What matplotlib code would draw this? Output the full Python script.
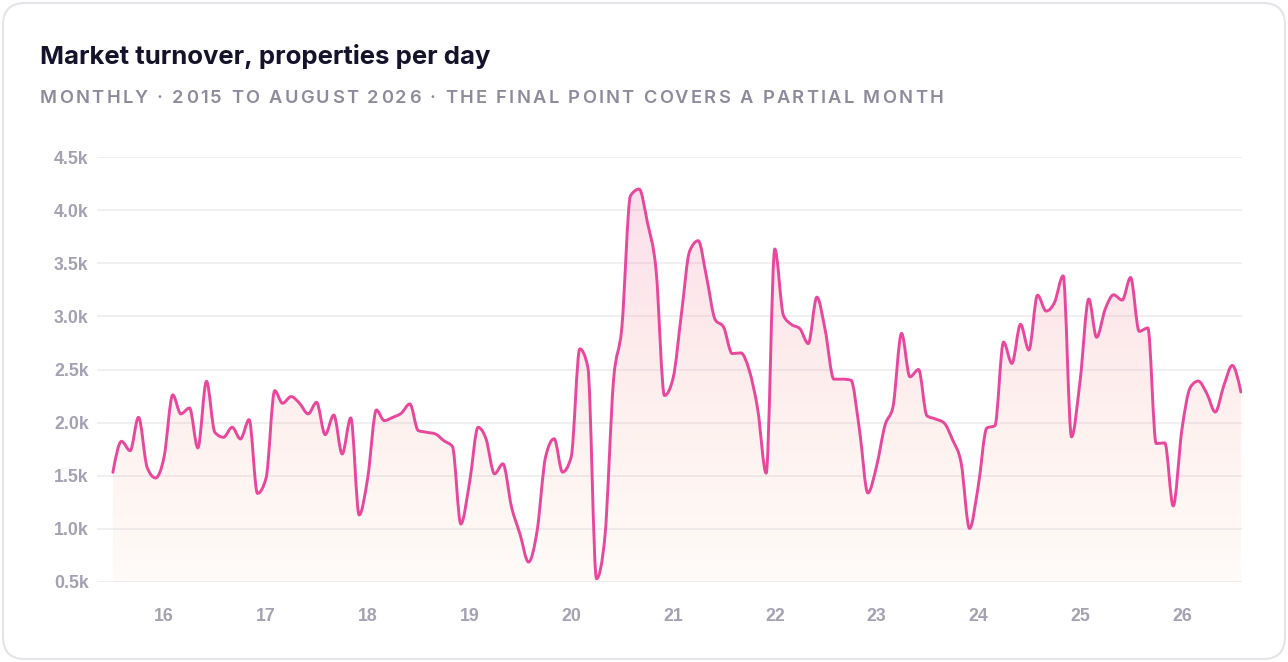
import numpy as np
import pandas as pd
import matplotlib
matplotlib.use("Agg")
import matplotlib.pyplot as plt
import matplotlib.dates as mdates
from matplotlib.patches import FancyBboxPatch, PathPatch
from matplotlib.path import Path
from matplotlib.transforms import IdentityTransform

# monthly turnover, Jul 2015 .. Aug 2026 (last month partial)
start_month = "2015-07-01"
turnover = [
    1532, 1824, 1736, 2050, 1579, 1479, 1680, 2261, 2082, 2138, 1762, 2389,
    1909, 1862, 1956, 1846, 2028, 1334, 1479, 2301, 2182, 2245, 2182, 2082,
    2191, 1887, 2072, 1705, 2044, 1131, 1485, 2119, 2019, 2050, 2088, 2176,
    1925, 1909, 1893, 1830, 1774, 1046, 1432, 1956, 1850, 1518, 1612, 1205,
    954, 688, 986, 1675, 1848, 1534, 1675, 2694, 2521, 531, 923, 2396,
    2897, 4135, 4198, 3880, 3430, 2255, 2420, 3050, 3612, 3712, 3369, 2969,
    2900, 2650, 2656, 2494, 2119, 1525, 3634, 3009, 2925, 2884, 2744, 3181,
    2869, 2409, 2409, 2400, 1931, 1338, 1587, 1980, 2147, 2840, 2431, 2500,
    2065, 2034, 1996, 1838, 1618, 1004, 1398, 1949, 1971, 2758, 2557, 2925,
    2683, 3200, 3050, 3131, 3381, 1866, 2397, 3163, 2803, 3069, 3203, 3153,
    3366, 2859, 2891, 1803, 1809, 1216, 1928, 2334, 2391, 2272, 2100, 2350,
    2538, 2288,
]
y_ticks = [500, 1000, 1500, 2000, 2500, 3000, 3500, 4000, 4500]
y_tick_labels = ["0.5k", "1.0k", "1.5k", "2.0k", "2.5k", "3.0k", "3.5k", "4.0k", "4.5k"]
x_tick_years = list(range(2016, 2027))

title = "Market turnover, properties per day"
subtitle = "MONTHLY · 2015 TO AUGUST 2026 · THE FINAL POINT COVERS A PARTIAL MONTH"

W, H = 1288, 662
LINE = "#e8479b"
GRID = "#ececf0"
TICK = "#a3a1b2"


def monotone_path(x, y):
    # smooth monotone-x bezier through the points (same idea as d3.curveMonotoneX)
    h = np.diff(x)
    s = np.diff(y) / h
    t = np.zeros_like(y)
    for i in range(1, len(x) - 1):
        p = (s[i - 1] * h[i] + s[i] * h[i - 1]) / (h[i - 1] + h[i])
        t[i] = (np.sign(s[i - 1]) + np.sign(s[i])) * min(abs(s[i - 1]), abs(s[i]), 0.5 * abs(p))
    t[0] = (3 * s[0] - t[1]) / 2
    t[-1] = (3 * s[-1] - t[-2]) / 2
    verts = [(x[0], y[0])]
    codes = [Path.MOVETO]
    for i in range(len(x) - 1):
        dx = h[i] / 3
        verts += [(x[i] + dx, y[i] + dx * t[i]),
                  (x[i + 1] - dx, y[i + 1] - dx * t[i + 1]),
                  (x[i + 1], y[i + 1])]
        codes += [Path.CURVE4] * 3
    return verts, codes


months = pd.date_range(start_month, periods=len(turnover), freq="MS")
xs = mdates.date2num(months)
vals = np.array(turnover, dtype=float)

fig = plt.figure(figsize=(W / 100, H / 100), dpi=100)
fig.patch.set_facecolor("white")

card = FancyBboxPatch((3, 3), W - 6, H - 6,
                      boxstyle="round,pad=0,rounding_size=22",
                      transform=IdentityTransform(),
                      fc="white", ec="#e4e4e9", lw=1.5, zorder=-5)
fig.patches.append(card)

ax = fig.add_axes([97 / W, 80 / H, 1145 / W, 425 / H])
ax.set_facecolor("none")

x0 = mdates.date2num(pd.Timestamp("2015-05-05"))
x1 = mdates.date2num(pd.Timestamp("2026-08-05"))
ax.set_xlim(x0, x1)
ax.set_ylim(500, 4500)

verts, codes = monotone_path(xs, vals)
line_path = Path(verts, codes)
area_path = Path(verts + [(xs[-1], 500), (xs[0], 500), (xs[0], vals[0])],
                 codes + [Path.LINETO, Path.LINETO, Path.CLOSEPOLY])

# gradient area under the line
n = 256
tt = np.linspace(0, 1, n)[:, None]          # 0 = bottom, 1 = top
pink = np.array([236, 72, 153]) / 255
peach = np.array([249, 115, 22]) / 255
rgb = peach * (1 - tt) + pink * tt
alpha = 0.03 + 0.15 * tt
grad = np.dstack([np.repeat(rgb[:, None, :], 2, axis=1),
                  np.repeat(alpha[:, None, :], 2, axis=1)])
im = ax.imshow(grad, extent=[x0, x1, 500, 4250], origin="lower",
               aspect="auto", interpolation="bilinear", zorder=1)
im.set_clip_path(area_path, transform=ax.transData)

ax.add_patch(PathPatch(line_path, fc="none", ec=LINE, lw=2.1,
                       joinstyle="round", capstyle="round", zorder=3))

ax.set_yticks(y_ticks)
ax.set_yticklabels(y_tick_labels)
ax.set_xticks([mdates.date2num(pd.Timestamp(f"{y}-01-01")) for y in x_tick_years])
ax.set_xticklabels([str(y)[2:] for y in x_tick_years])
ax.grid(axis="y", color=GRID, lw=1.1, zorder=0)
ax.grid(axis="x", visible=False)
ax.set_axisbelow(True)
for s in ax.spines.values():
    s.set_visible(False)
ax.tick_params(axis="both", length=0, colors=TICK, labelsize=12.8)
ax.tick_params(axis="y", pad=6)
ax.tick_params(axis="x", pad=19)
for lab in ax.get_xticklabels() + ax.get_yticklabels():
    lab.set_fontweight("bold")
    lab.set_fontfamily(["Liberation Sans", "DejaVu Sans"])

fig.text(40 / W, 1 - 64 / H, title, fontsize=18.5, fontweight="bold",
         color="#15132b", family=["Inter", "DejaVu Sans"], va="baseline")

# letter-spaced subtitle
renderer = fig.canvas.get_renderer()
sub_kw = dict(fontsize=13.2, fontweight="semibold", color="#8d8a9c",
              family=["Inter", "DejaVu Sans"], va="baseline")
xp = 40
for ch in subtitle:
    if ch == " ":
        xp += 7.0
        continue
    txt = fig.text(xp / W, 1 - 103 / H, ch, **sub_kw)
    xp += txt.get_window_extent(renderer=renderer).width + 2.25

fig.savefig("out.png", dpi=100, facecolor="white")
